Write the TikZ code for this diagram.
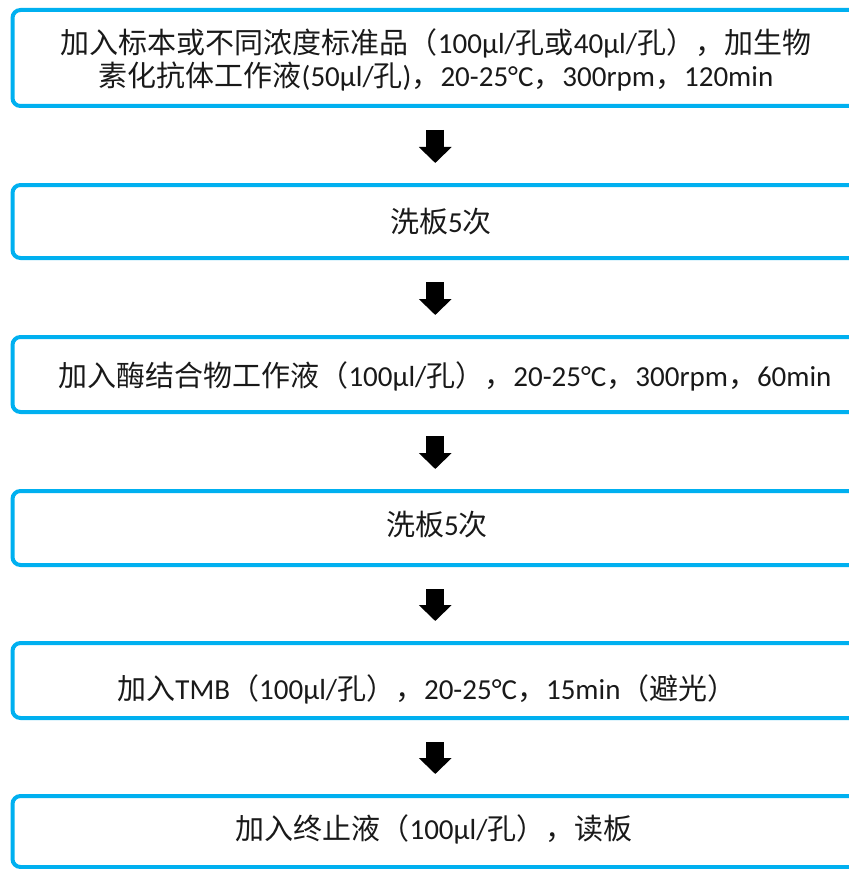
\documentclass[tikz,border=0pt]{standalone}
\usepackage{fontspec}
\setmainfont{Carlito}
\newfontfamily\cjk{Noto Sans CJK SC}
\usetikzlibrary{arrows.meta}
\definecolor{boxblue}{RGB}{0,176,240}
\tikzset{
  stepbox/.style={draw=boxblue, line width=4pt, rounded corners=8pt, minimum width=857.5pt, inner sep=0pt},
  label/.style={font=\fontsize{29}{33}\selectfont, align=center, inner sep=0pt, text=black!90},
  bigarrow/.style={line width=18pt, -{Triangle[length=16pt,width=32pt]}, shorten <=22pt, shorten >=20pt}
}
\begin{document}
\begin{tikzpicture}[x=1pt,y=-1pt]
\useasboundingbox (0,0) rectangle (848,869);
\node[stepbox, minimum height=96pt] (b1) at (441.25,58) {};
\node[stepbox, minimum height=73pt] (b2) at (441.25,221.5) {};
\node[stepbox, minimum height=75pt] (b3) at (441.25,374.5) {};
\node[stepbox, minimum height=74pt] (b4) at (441.25,528) {};
\node[stepbox, minimum height=75pt] (b5) at (441.25,680.5) {};
\node[stepbox, minimum height=71pt] (b6) at (441.25,831.5) {};

\node[label] (t1) at (436,60) {{\cjk 加入标本或不同浓度标准品（}100µl/{\cjk 孔或}40µl/{\cjk 孔），加生物}\\{\cjk 素化抗体工作液}(50µl/{\cjk 孔}){\cjk ，}20-25°C{\cjk ，}300rpm{\cjk ，}120min};
\node[label] (t2) at (441,222) {{\cjk 洗板}5{\cjk 次}};
\node[label] (t3) at (445,376) {{\cjk 加入酶结合物工作液（}100µl/{\cjk 孔），}20-25°C{\cjk ，}300rpm{\cjk ，}60min};
\node[label] (t4) at (437,525) {{\cjk 洗板}5{\cjk 次}};
\node[label] (t5) at (427,689) {{\cjk 加入}TMB{\cjk （}100µl/{\cjk 孔），}20-25°C{\cjk ，}15min{\cjk （避光）}};
\node[label] (t6) at (434,829) {{\cjk 加入终止液（}100µl/{\cjk 孔），读板}};

\draw[bigarrow] ([xshift=-6pt]b1.south) -- ([xshift=-6pt]b2.north);
\draw[bigarrow] ([xshift=-6pt]b2.south) -- ([xshift=-6pt]b3.north);
\draw[bigarrow] ([xshift=-6pt]b3.south) -- ([xshift=-6pt]b4.north);
\draw[bigarrow] ([xshift=-6pt]b4.south) -- ([xshift=-6pt]b5.north);
\draw[bigarrow] ([xshift=-6pt]b5.south) -- ([xshift=-6pt]b6.north);
\end{tikzpicture}
\end{document}
